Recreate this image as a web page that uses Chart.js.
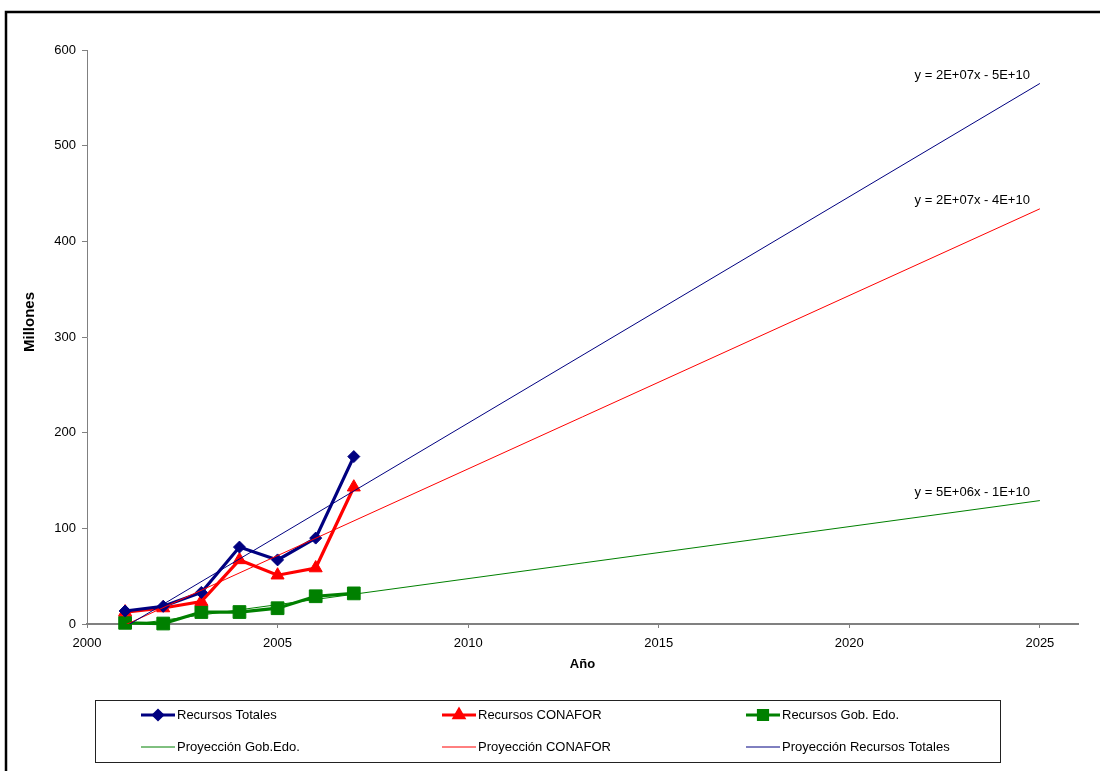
<!DOCTYPE html>
<html><head><meta charset="utf-8">
<script src="https://cdn.jsdelivr.net/npm/chart.js@4.4.0/dist/chart.umd.min.js"></script>
<style>html,body{margin:0;padding:0;background:#fff;overflow:hidden}
#wrap{position:relative;width:1100px;height:771px}</style></head>
<body><div id="wrap"><canvas id="c"></canvas></div>
<script>
// ---- data ----
const years = [2001, 2002, 2003, 2004, 2005, 2006, 2007];
const recursosTotales = [13.6, 18.5, 33, 80.4, 67, 89.8, 175];
const recursosConafor = [12.5, 16.7, 23.5, 67, 51, 58.5, 143];
const recursosGobEdo = [1.2, 0.5, 12.5, 12.5, 16.5, 29, 32];
const projYears = [2001, 2025];
const projTotales = [-3, 565];
const projConafor = [-1, 434];
const projGobEdo = [-1.5, 129];
const xRange = [2000, 2026];
const xStep = 5;
const yRange = [0, 600];
const yStep = 100;
const seriesLabels = ['Recursos Totales', 'Recursos CONAFOR', 'Recursos Gob. Edo.'];
const projLabels = ['Proyección Gob.Edo.', 'Proyección CONAFOR', 'Proyección Recursos Totales'];
const equations = ['y = 2E+07x - 5E+10', 'y = 2E+07x - 4E+10', 'y = 5E+06x - 1E+10'];
const xTitle = 'Año';
const yTitle = 'Millones';

const FONT = '"Liberation Sans", Arial, sans-serif';
const NAVY = '#000080', RED = '#FF0000', GREEN = '#008000';

function pts(xs, ys) { return xs.map((x, i) => ({ x: x, y: ys[i] })); }

const datasets = [
  { label: projLabels[2], data: pts(projYears, projTotales), borderColor: NAVY, borderWidth: 1, pointRadius: 0, pointHoverRadius: 0, eq: equations[0] },
  { label: projLabels[1], data: pts(projYears, projConafor), borderColor: RED, borderWidth: 1, pointRadius: 0, pointHoverRadius: 0, eq: equations[1] },
  { label: projLabels[0], data: pts(projYears, projGobEdo), borderColor: GREEN, borderWidth: 1, pointRadius: 0, pointHoverRadius: 0, eq: equations[2] },
  { label: seriesLabels[0], data: pts(years, recursosTotales), borderColor: NAVY, backgroundColor: NAVY, borderWidth: 3.2,
    pointStyle: 'rectRot', pointRadius: 6, pointBorderWidth: 1, clip: false },
  { label: seriesLabels[1], data: pts(years, recursosConafor), borderColor: RED, backgroundColor: RED, borderWidth: 3.2,
    pointStyle: 'triangle', pointRadius: 7.5, pointBorderWidth: 1, clip: false },
  { label: seriesLabels[2], data: pts(years, recursosGobEdo), borderColor: GREEN, backgroundColor: GREEN, borderWidth: 3.2,
    pointStyle: 'rect', pointRadius: 9, pointBorderWidth: 1, clip: false }
];

const framePlugin = {
  id: 'frame',
  beforeDraw(chart) {
    const ctx = chart.ctx;
    ctx.save();
    ctx.fillStyle = '#fff';
    ctx.fillRect(0, 0, chart.width, chart.height);
    ctx.strokeStyle = '#000';
    ctx.lineWidth = 2.5;
    ctx.strokeRect(6, 12, chart.width + 20, chart.height + 20);
    ctx.restore();
  },
  afterDraw(chart) {
    const ctx = chart.ctx;
    const ca = chart.chartArea;
    ctx.save();
    // y axis title
    ctx.font = 'bold 15px ' + FONT;
    ctx.fillStyle = '#000';
    ctx.textAlign = 'center';
    ctx.textBaseline = 'middle';
    ctx.translate(30, 322);
    ctx.rotate(-Math.PI / 2);
    ctx.fillText(yTitle, 0, 0);
    ctx.restore();

    // trend-line equations near the end of each projection line
    ctx.save();
    ctx.font = '13px ' + FONT;
    ctx.fillStyle = '#000';
    ctx.textAlign = 'right';
    ctx.textBaseline = 'middle';
    [0, 1, 2].forEach(i => {
      const meta = chart.getDatasetMeta(i);
      const end = meta.data[meta.data.length - 1];
      ctx.fillText(chart.data.datasets[i].eq, end.x - 10, end.y - 8);
    });
    ctx.restore();

    // legend box
    ctx.save();
    const box = { x: 95, y: 700, w: 905, h: 62 };
    ctx.strokeStyle = '#222';
    ctx.lineWidth = 1;
    ctx.strokeRect(box.x + 0.5, box.y + 0.5, box.w, box.h);
    const cols = [141, 442, 746];
    const rows = [715, 747];
    const order = [[3, 4, 5], [2, 1, 0]];
    ctx.font = '13px ' + FONT;
    ctx.textAlign = 'left';
    ctx.textBaseline = 'middle';
    order.forEach((row, r) => {
      row.forEach((di, c) => {
        const ds = chart.data.datasets[di];
        const x0 = cols[c], y0 = rows[r];
        ctx.strokeStyle = ds.borderColor;
        ctx.lineWidth = di >= 3 ? 3 : 1;
        ctx.beginPath();
        ctx.moveTo(x0, y0);
        ctx.lineTo(x0 + 34, y0);
        ctx.stroke();
        if (di >= 3) {
          ctx.fillStyle = ds.backgroundColor;
          const sizes = { rectRot: 4.5, triangle: 5.5, rect: 6.5 };
          Chart.helpers.drawPoint(ctx, { pointStyle: ds.pointStyle, radius: sizes[ds.pointStyle], borderWidth: 1, rotation: 0 }, x0 + 17, y0);
        }
        ctx.fillStyle = '#000';
        ctx.fillText(ds.label, x0 + 36, y0 + 0.5);
      });
    });
    ctx.restore();
  }
};

new Chart(document.getElementById('c'), {
  type: 'line',
  data: { datasets: datasets },
  plugins: [framePlugin],
  options: {
    responsive: true,
    maintainAspectRatio: false,
    animation: false,
    devicePixelRatio: 1,
    layout: { padding: { top: 50, right: 22, bottom: 0, left: 0 } },
    plugins: { legend: { display: false }, tooltip: { enabled: false } },
    elements: { line: { tension: 0 } },
    scales: {
      x: {
        type: 'linear', min: xRange[0], max: xRange[1],
        afterFit(s) { s.height = 147; },
        border: { color: '#808080', width: 2 },
        grid: { drawOnChartArea: false, drawTicks: true, tickLength: 4, tickColor: '#808080' },
        ticks: { stepSize: xStep, includeBounds: false, color: '#000', padding: 8, font: { family: FONT, size: 13 }, maxRotation: 0,
          callback: v => String(v) },
        title: { display: true, text: xTitle, color: '#000', font: { family: FONT, size: 13, weight: 'bold' }, padding: { top: 0, bottom: 99 } }
      },
      y: {
        type: 'linear', min: yRange[0], max: yRange[1],
        afterFit(s) { s.width = 87; },
        border: { color: '#808080', width: 1 },
        grid: { drawOnChartArea: false, drawTicks: true, tickLength: 5, tickColor: '#808080' },
        ticks: { stepSize: yStep, color: '#000', padding: 6, font: { family: FONT, size: 13 }, callback: v => String(v) }
      }
    }
  }
});
</script></body></html>
